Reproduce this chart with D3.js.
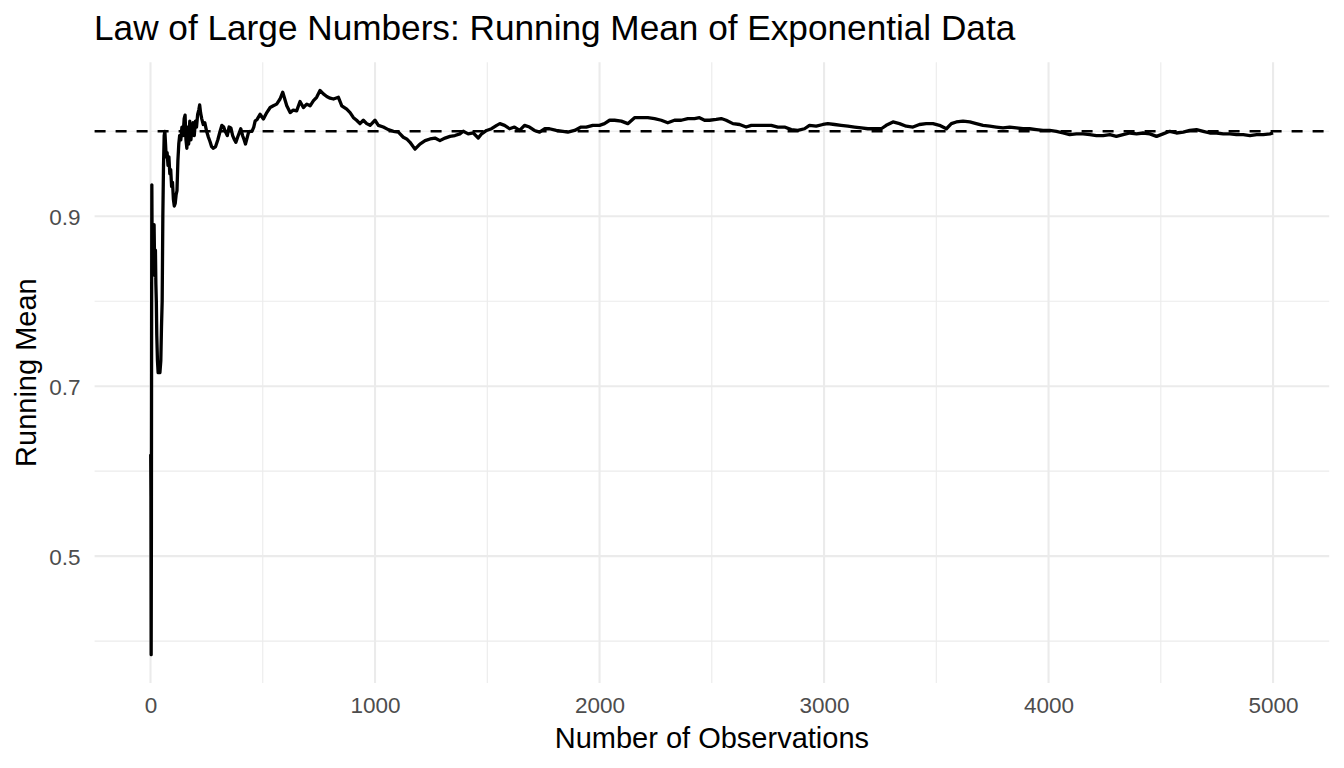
<!DOCTYPE html>
<html>
<head>
<meta charset="utf-8">
<script src="https://cdn.jsdelivr.net/npm/d3@7"></script>
<style>
  html, body { margin: 0; padding: 0; background: #ffffff; }
  svg { display: block; }
  text { font-family: "Liberation Sans", Arial, Helvetica, sans-serif; }
</style>
</head>
<body>
<svg id="chart" width="1344" height="768"></svg>
<script>
// ---- data ----
const titleText = "Law of Large Numbers: Running Mean of Exponential Data";
const xLabel = "Number of Observations";
const yLabel = "Running Mean";
const trueMean = 1.0;

const xMajorTicks = [0, 1000, 2000, 3000, 4000, 5000];
const xMinorTicks = [500, 1500, 2500, 3500, 4500];
const yMajorTicks = [0.5, 0.7, 0.9];
const yMinorTicks = [0.4, 0.6, 0.8, 1.0];

const observations = [
  1, 2, 3, 4, 5, 6, 7, 8, 9, 10, 12, 14, 16, 18, 20, 22, 24, 26, 28, 31, 34, 38, 42, 46, 49, 52, 55, 58, 61, 64,
  67, 70, 74, 78, 82, 86, 90, 94, 98, 102, 106, 110, 114, 118, 122, 126, 130, 135, 140, 145, 150, 154, 158, 162,
  166, 170, 175, 180, 185, 190, 195, 200, 205, 210, 215, 219, 223, 228, 235, 242, 250, 258, 265, 272, 280, 290,
  300, 310, 318, 326, 333, 342, 350, 358, 366, 374, 380, 388, 395, 402, 410, 417, 423, 430, 437, 445, 452, 460,
  466, 475, 488, 503, 518, 533, 547, 562, 577, 589, 607, 622, 636, 651, 666, 681, 696, 711, 726, 740, 755, 770,
  785, 800, 815, 837, 852, 874, 889, 904, 918, 933, 948, 963, 978, 1000, 1015, 1037, 1059, 1082, 1104, 1126,
  1141, 1156, 1178, 1200, 1223, 1245, 1267, 1289, 1312, 1334, 1356, 1378, 1393, 1415, 1438, 1460, 1475, 1497,
  1519, 1542, 1556, 1577, 1599, 1621, 1644, 1666, 1688, 1710, 1733, 1755, 1777, 1807, 1837, 1859, 1889, 1918,
  1941, 1970, 2000, 2022, 2045, 2067, 2097, 2126, 2156, 2186, 2215, 2245, 2275, 2304, 2334, 2364, 2393, 2423,
  2445, 2468, 2490, 2520, 2542, 2564, 2594, 2624, 2653, 2676, 2705, 2735, 2765, 2794, 2824, 2854, 2883, 2913,
  2935, 2965, 2995, 3017, 3047, 3076, 3106, 3136, 3166, 3195, 3225, 3255, 3277, 3307, 3336, 3366, 3396, 3425,
  3455, 3485, 3514, 3545, 3567, 3589, 3619, 3649, 3678, 3708, 3738, 3767, 3797, 3827, 3857, 3886, 3916, 3946,
  3975, 4005, 4035, 4065, 4094, 4124, 4154, 4184, 4213, 4243, 4273, 4302, 4332, 4362, 4392, 4421, 4451, 4481,
  4510, 4540, 4570, 4600, 4629, 4659, 4689, 4718, 4748, 4778, 4808, 4837, 4867, 4897, 4927, 4956, 4986, 5000
];

const runningMean = [
  0.620, 0.570, 0.384, 0.520, 0.780, 0.937, 0.880, 0.860, 0.890, 0.840, 0.880, 0.860, 0.890, 0.850, 0.830, 0.860,
  0.820, 0.800, 0.760, 0.730, 0.716, 0.720, 0.716, 0.730, 0.770, 0.800, 0.900, 0.960, 0.995, 1.000,
  0.985, 0.970, 0.975, 0.960, 0.970, 0.950, 0.955, 0.935, 0.940, 0.920, 0.912, 0.915, 0.925, 0.930, 0.965, 0.985,
  0.995, 0.990, 1.005, 0.995, 1.015, 1.019, 0.990, 0.980,
  1.005, 0.985, 1.012, 0.990, 1.005, 1.010, 0.995, 1.012, 1.005, 1.020, 1.025, 1.031, 1.022, 1.015, 1.008, 1.010,
  1.000, 0.993, 0.988, 0.982, 0.980, 0.982,
  0.990, 1.000, 1.007, 1.005, 1.000, 0.995, 1.005, 1.004, 0.995, 0.990, 0.987, 0.993, 0.998, 1.003, 0.995, 0.990,
  0.985, 0.992, 0.999, 1.000, 1.000, 1.005,
  1.012, 1.014, 1.020, 1.0145, 1.022, 1.028, 1.030, 1.032, 1.038, 1.046, 1.030, 1.022, 1.025, 1.024, 1.035, 1.028,
  1.032, 1.030, 1.036, 1.040, 1.048, 1.044,
  1.041, 1.039, 1.038, 1.040, 1.030, 1.026, 1.022, 1.016, 1.013, 1.009, 1.013, 1.009, 1.007, 1.013, 1.007, 1.005,
  1.002, 1.000, 0.999, 0.993,
  0.991, 0.987, 0.979, 0.985, 0.989, 0.991, 0.992, 0.989, 0.992, 0.994, 0.995, 0.997, 1.000, 0.997, 0.998, 0.992,
  0.997, 1.001,
  1.003, 1.007, 1.009, 1.007, 1.003, 1.005, 1.001, 1.007, 1.005, 1.001, 0.999, 1.003, 1.003, 1.001, 1.000, 0.999,
  1.001, 1.005,
  1.005, 1.007, 1.007, 1.009, 1.013, 1.013, 1.012, 1.009, 1.016, 1.016, 1.016, 1.015, 1.013, 1.010, 1.013, 1.013,
  1.015, 1.015,
  1.016, 1.013, 1.013, 1.014, 1.015, 1.013, 1.009, 1.008, 1.005, 1.007, 1.007, 1.007, 1.007, 1.005, 1.005, 1.002,
  1.001, 1.003,
  1.007, 1.006, 1.008, 1.009, 1.008, 1.007, 1.006, 1.005, 1.004, 1.003, 1.003, 1.003, 1.007, 1.011, 1.009, 1.006,
  1.005, 1.008,
  1.009, 1.009, 1.007, 1.003, 1.009, 1.011, 1.012, 1.011, 1.009, 1.007, 1.006, 1.005, 1.004, 1.005, 1.004, 1.003,
  1.003, 1.002,
  1.001, 1.001, 1.000, 0.998, 0.996, 0.997, 0.997, 0.996, 0.995, 0.995, 0.996, 0.994, 0.996, 0.998, 0.997, 0.998,
  0.997, 0.994,
  0.997, 1.000, 0.998, 0.999, 1.001, 1.002, 1.000, 0.998, 0.998, 0.997, 0.997, 0.996, 0.996, 0.995, 0.996, 0.996,
  0.997, 0.998
];

// ---- layout ----
const W = 1344, H = 768;
const panel = { left: 94.6, right: 1329.2, top: 62.3, bottom: 682.9 };

const series = observations.map((n, i) => ({ n: n, v: runningMean[i] }));

const xExt = d3.extent(observations);
const xPad = (xExt[1] - xExt[0]) * 0.05;
const yExt = d3.extent(runningMean);
const yPad = (yExt[1] - yExt[0]) * 0.05;

const x = d3.scaleLinear().domain([xExt[0] - xPad, xExt[1] + xPad]).range([panel.left, panel.right]);
const y = d3.scaleLinear().domain([yExt[0] - yPad, yExt[1] + yPad]).range([panel.bottom, panel.top]);

const svg = d3.select("#chart");
svg.append("rect").attr("width", W).attr("height", H).attr("fill", "#ffffff");

const grid = svg.append("g");
// minor gridlines
grid.selectAll("line.xminor").data(xMinorTicks).enter().append("line")
  .attr("x1", d => x(d)).attr("x2", d => x(d))
  .attr("y1", panel.top).attr("y2", panel.bottom)
  .attr("stroke", "#EBEBEB").attr("stroke-width", 1.1);
grid.selectAll("line.yminor").data(yMinorTicks).enter().append("line")
  .attr("x1", panel.left).attr("x2", panel.right)
  .attr("y1", d => y(d)).attr("y2", d => y(d))
  .attr("stroke", "#EBEBEB").attr("stroke-width", 1.1);
// major gridlines
grid.selectAll("line.xmajor").data(xMajorTicks).enter().append("line")
  .attr("x1", d => x(d)).attr("x2", d => x(d))
  .attr("y1", panel.top).attr("y2", panel.bottom)
  .attr("stroke", "#EBEBEB").attr("stroke-width", 2.1);
grid.selectAll("line.ymajor").data(yMajorTicks).enter().append("line")
  .attr("x1", panel.left).attr("x2", panel.right)
  .attr("y1", d => y(d)).attr("y2", d => y(d))
  .attr("stroke", "#EBEBEB").attr("stroke-width", 2.1);

// running mean line
const line = d3.line().x(d => x(d.n)).y(d => y(d.v)).curve(d3.curveLinear);
svg.append("path").datum(series)
  .attr("d", line)
  .attr("fill", "none")
  .attr("stroke", "#000000")
  .attr("stroke-width", 3.3)
  .attr("stroke-linejoin", "round");

// dashed reference line at true mean
svg.append("line")
  .attr("x1", panel.left).attr("x2", panel.right)
  .attr("y1", y(trueMean)).attr("y2", y(trueMean))
  .attr("stroke", "#000000").attr("stroke-width", 2.6)
  .attr("stroke-dasharray", "11,10");

// axes (labels only, theme_minimal has no axis lines or ticks)
const xAxis = d3.axisBottom(x).tickValues(xMajorTicks).tickSize(0).tickPadding(0).tickFormat(d3.format("d"));
const gx = svg.append("g").attr("transform", `translate(0,${panel.bottom})`).call(xAxis);
gx.select(".domain").remove();
gx.selectAll("text")
  .attr("dy", null).attr("y", 30)
  .attr("fill", "#4D4D4D").style("font-size", "22.5px")
  .style("font-family", '"Liberation Sans", Arial, sans-serif');

const yAxis = d3.axisLeft(y).tickValues(yMajorTicks).tickSize(0).tickPadding(0).tickFormat(d3.format(".1f"));
const gy = svg.append("g").attr("transform", `translate(${panel.left - 14},0)`).call(yAxis);
gy.select(".domain").remove();
gy.selectAll("text")
  .attr("x", 0).attr("dy", "0.36em")
  .attr("fill", "#4D4D4D").style("font-size", "22.5px")
  .style("font-family", '"Liberation Sans", Arial, sans-serif');

// titles
svg.append("text")
  .attr("x", 94).attr("y", 40)
  .attr("fill", "#000000").style("font-size", "35.2px")
  .text(titleText);

svg.append("text")
  .attr("x", (panel.left + panel.right) / 2).attr("y", 748)
  .attr("text-anchor", "middle")
  .attr("fill", "#000000").style("font-size", "29px")
  .text(xLabel);

svg.append("text")
  .attr("transform", `translate(36,${(panel.top + panel.bottom) / 2}) rotate(-90)`)
  .attr("text-anchor", "middle")
  .attr("fill", "#000000").style("font-size", "29px")
  .text(yLabel);
</script>
</body>
</html>
